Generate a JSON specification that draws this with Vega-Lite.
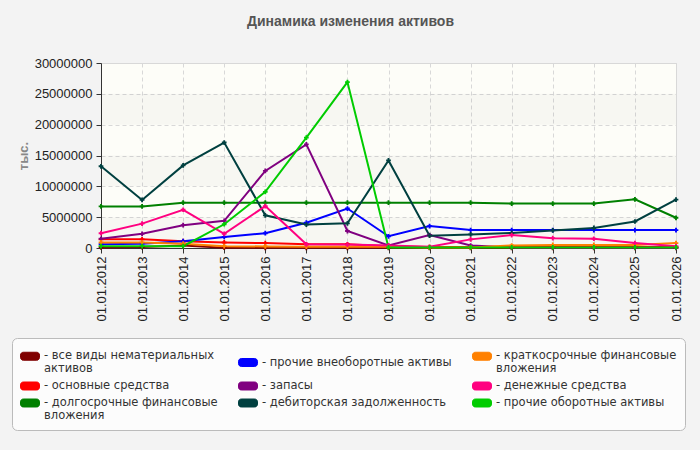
{
  "$schema": "https://vega.github.io/schema/vega-lite/v6.json",
  "width": 575,
  "height": 185,
  "autosize": {"type": "none"},
  "padding": {"left": 101, "top": 63, "right": 24, "bottom": 202},
  "background": "#f3f3f3",
  "title": {"text": "Динамика изменения активов", "fontSize": 14, "font": "Liberation Sans", "fontWeight": "bold", "color": "#555555", "anchor": "middle", "dx": -38, "offset": 28},
  "config": {
    "font": "Liberation Sans",
    "view": {"fill": "#fdfdf8", "stroke": "#d8d8d8"}
  },
  "datasets": {
    "bands": [
      {"b0": 0, "b1": 5000000},
      {"b0": 10000000, "b1": 15000000},
      {"b0": 20000000, "b1": 25000000}
    ],
    "series": [
      {"d": "01.01.2012", "s": "все виды нематериальных активов", "v": 100000},
      {"d": "01.01.2013", "s": "все виды нематериальных активов", "v": 150000},
      {"d": "01.01.2014", "s": "все виды нематериальных активов", "v": 400000},
      {"d": "01.01.2015", "s": "все виды нематериальных активов", "v": 50000},
      {"d": "01.01.2016", "s": "все виды нематериальных активов", "v": 30000},
      {"d": "01.01.2017", "s": "все виды нематериальных активов", "v": 30000},
      {"d": "01.01.2018", "s": "все виды нематериальных активов", "v": 30000},
      {"d": "01.01.2019", "s": "все виды нематериальных активов", "v": 30000},
      {"d": "01.01.2020", "s": "все виды нематериальных активов", "v": 20000},
      {"d": "01.01.2021", "s": "все виды нематериальных активов", "v": 20000},
      {"d": "01.01.2022", "s": "все виды нематериальных активов", "v": 20000},
      {"d": "01.01.2023", "s": "все виды нематериальных активов", "v": 20000},
      {"d": "01.01.2024", "s": "все виды нематериальных активов", "v": 20000},
      {"d": "01.01.2025", "s": "все виды нематериальных активов", "v": 20000},
      {"d": "01.01.2026", "s": "все виды нематериальных активов", "v": 20000},

      {"d": "01.01.2012", "s": "основные средства", "v": 1400000},
      {"d": "01.01.2013", "s": "основные средства", "v": 1400000},
      {"d": "01.01.2014", "s": "основные средства", "v": 1100000},
      {"d": "01.01.2015", "s": "основные средства", "v": 900000},
      {"d": "01.01.2016", "s": "основные средства", "v": 800000},
      {"d": "01.01.2017", "s": "основные средства", "v": 600000},
      {"d": "01.01.2018", "s": "основные средства", "v": 600000},
      {"d": "01.01.2019", "s": "основные средства", "v": 300000},
      {"d": "01.01.2020", "s": "основные средства", "v": 150000},
      {"d": "01.01.2021", "s": "основные средства", "v": 150000},
      {"d": "01.01.2022", "s": "основные средства", "v": 150000},
      {"d": "01.01.2023", "s": "основные средства", "v": 150000},
      {"d": "01.01.2024", "s": "основные средства", "v": 150000},
      {"d": "01.01.2025", "s": "основные средства", "v": 150000},
      {"d": "01.01.2026", "s": "основные средства", "v": 150000},

      {"d": "01.01.2012", "s": "долгосрочные финансовые вложения", "v": 6750000},
      {"d": "01.01.2013", "s": "долгосрочные финансовые вложения", "v": 6750000},
      {"d": "01.01.2014", "s": "долгосрочные финансовые вложения", "v": 7350000},
      {"d": "01.01.2015", "s": "долгосрочные финансовые вложения", "v": 7350000},
      {"d": "01.01.2016", "s": "долгосрочные финансовые вложения", "v": 7350000},
      {"d": "01.01.2017", "s": "долгосрочные финансовые вложения", "v": 7350000},
      {"d": "01.01.2018", "s": "долгосрочные финансовые вложения", "v": 7350000},
      {"d": "01.01.2019", "s": "долгосрочные финансовые вложения", "v": 7350000},
      {"d": "01.01.2020", "s": "долгосрочные финансовые вложения", "v": 7350000},
      {"d": "01.01.2021", "s": "долгосрочные финансовые вложения", "v": 7350000},
      {"d": "01.01.2022", "s": "долгосрочные финансовые вложения", "v": 7200000},
      {"d": "01.01.2023", "s": "долгосрочные финансовые вложения", "v": 7200000},
      {"d": "01.01.2024", "s": "долгосрочные финансовые вложения", "v": 7200000},
      {"d": "01.01.2025", "s": "долгосрочные финансовые вложения", "v": 7900000},
      {"d": "01.01.2026", "s": "долгосрочные финансовые вложения", "v": 4900000},

      {"d": "01.01.2012", "s": "прочие внеоборотные активы", "v": 600000},
      {"d": "01.01.2013", "s": "прочие внеоборотные активы", "v": 700000},
      {"d": "01.01.2014", "s": "прочие внеоборотные активы", "v": 1100000},
      {"d": "01.01.2015", "s": "прочие внеоборотные активы", "v": 1800000},
      {"d": "01.01.2016", "s": "прочие внеоборотные активы", "v": 2400000},
      {"d": "01.01.2017", "s": "прочие внеоборотные активы", "v": 4100000},
      {"d": "01.01.2018", "s": "прочие внеоборотные активы", "v": 6400000},
      {"d": "01.01.2019", "s": "прочие внеоборотные активы", "v": 1900000},
      {"d": "01.01.2020", "s": "прочие внеоборотные активы", "v": 3550000},
      {"d": "01.01.2021", "s": "прочие внеоборотные активы", "v": 2900000},
      {"d": "01.01.2022", "s": "прочие внеоборотные активы", "v": 2900000},
      {"d": "01.01.2023", "s": "прочие внеоборотные активы", "v": 2900000},
      {"d": "01.01.2024", "s": "прочие внеоборотные активы", "v": 2900000},
      {"d": "01.01.2025", "s": "прочие внеоборотные активы", "v": 2900000},
      {"d": "01.01.2026", "s": "прочие внеоборотные активы", "v": 2900000},

      {"d": "01.01.2012", "s": "запасы", "v": 1500000},
      {"d": "01.01.2013", "s": "запасы", "v": 2300000},
      {"d": "01.01.2014", "s": "запасы", "v": 3700000},
      {"d": "01.01.2015", "s": "запасы", "v": 4400000},
      {"d": "01.01.2016", "s": "запасы", "v": 12500000},
      {"d": "01.01.2017", "s": "запасы", "v": 16800000},
      {"d": "01.01.2018", "s": "запасы", "v": 2750000},
      {"d": "01.01.2019", "s": "запасы", "v": 400000},
      {"d": "01.01.2020", "s": "запасы", "v": 2100000},
      {"d": "01.01.2021", "s": "запасы", "v": 400000},
      {"d": "01.01.2022", "s": "запасы", "v": 100000},
      {"d": "01.01.2023", "s": "запасы", "v": 50000},
      {"d": "01.01.2024", "s": "запасы", "v": 50000},
      {"d": "01.01.2025", "s": "запасы", "v": 50000},
      {"d": "01.01.2026", "s": "запасы", "v": 50000},

      {"d": "01.01.2012", "s": "дебиторская задолженность", "v": 13250000},
      {"d": "01.01.2013", "s": "дебиторская задолженность", "v": 7800000},
      {"d": "01.01.2014", "s": "дебиторская задолженность", "v": 13400000},
      {"d": "01.01.2015", "s": "дебиторская задолженность", "v": 17100000},
      {"d": "01.01.2016", "s": "дебиторская задолженность", "v": 5300000},
      {"d": "01.01.2017", "s": "дебиторская задолженность", "v": 3800000},
      {"d": "01.01.2018", "s": "дебиторская задолженность", "v": 4000000},
      {"d": "01.01.2019", "s": "дебиторская задолженность", "v": 14200000},
      {"d": "01.01.2020", "s": "дебиторская задолженность", "v": 2000000},
      {"d": "01.01.2021", "s": "дебиторская задолженность", "v": 2200000},
      {"d": "01.01.2022", "s": "дебиторская задолженность", "v": 2450000},
      {"d": "01.01.2023", "s": "дебиторская задолженность", "v": 2850000},
      {"d": "01.01.2024", "s": "дебиторская задолженность", "v": 3250000},
      {"d": "01.01.2025", "s": "дебиторская задолженность", "v": 4300000},
      {"d": "01.01.2026", "s": "дебиторская задолженность", "v": 7850000},

      {"d": "01.01.2012", "s": "краткосрочные финансовые вложения", "v": 900000},
      {"d": "01.01.2013", "s": "краткосрочные финансовые вложения", "v": 900000},
      {"d": "01.01.2014", "s": "краткосрочные финансовые вложения", "v": 700000},
      {"d": "01.01.2015", "s": "краткосрочные финансовые вложения", "v": 300000},
      {"d": "01.01.2016", "s": "краткосрочные финансовые вложения", "v": 250000},
      {"d": "01.01.2017", "s": "краткосрочные финансовые вложения", "v": 200000},
      {"d": "01.01.2018", "s": "краткосрочные финансовые вложения", "v": 200000},
      {"d": "01.01.2019", "s": "краткосрочные финансовые вложения", "v": 200000},
      {"d": "01.01.2020", "s": "краткосрочные финансовые вложения", "v": 100000},
      {"d": "01.01.2021", "s": "краткосрочные финансовые вложения", "v": 100000},
      {"d": "01.01.2022", "s": "краткосрочные финансовые вложения", "v": 400000},
      {"d": "01.01.2023", "s": "краткосрочные финансовые вложения", "v": 500000},
      {"d": "01.01.2024", "s": "краткосрочные финансовые вложения", "v": 500000},
      {"d": "01.01.2025", "s": "краткосрочные финансовые вложения", "v": 500000},
      {"d": "01.01.2026", "s": "краткосрочные финансовые вложения", "v": 800000},

      {"d": "01.01.2012", "s": "денежные средства", "v": 2400000},
      {"d": "01.01.2013", "s": "денежные средства", "v": 3950000},
      {"d": "01.01.2014", "s": "денежные средства", "v": 6200000},
      {"d": "01.01.2015", "s": "денежные средства", "v": 2300000},
      {"d": "01.01.2016", "s": "денежные средства", "v": 6800000},
      {"d": "01.01.2017", "s": "денежные средства", "v": 600000},
      {"d": "01.01.2018", "s": "денежные средства", "v": 550000},
      {"d": "01.01.2019", "s": "денежные средства", "v": 400000},
      {"d": "01.01.2020", "s": "денежные средства", "v": 200000},
      {"d": "01.01.2021", "s": "денежные средства", "v": 1400000},
      {"d": "01.01.2022", "s": "денежные средства", "v": 2100000},
      {"d": "01.01.2023", "s": "денежные средства", "v": 1600000},
      {"d": "01.01.2024", "s": "денежные средства", "v": 1500000},
      {"d": "01.01.2025", "s": "денежные средства", "v": 800000},
      {"d": "01.01.2026", "s": "денежные средства", "v": 300000},

      {"d": "01.01.2012", "s": "прочие оборотные активы", "v": 300000},
      {"d": "01.01.2013", "s": "прочие оборотные активы", "v": 300000},
      {"d": "01.01.2014", "s": "прочие оборотные активы", "v": 300000},
      {"d": "01.01.2015", "s": "прочие оборотные активы", "v": 3850000},
      {"d": "01.01.2016", "s": "прочие оборотные активы", "v": 9100000},
      {"d": "01.01.2017", "s": "прочие оборотные активы", "v": 17900000},
      {"d": "01.01.2018", "s": "прочие оборотные активы", "v": 26900000},
      {"d": "01.01.2019", "s": "прочие оборотные активы", "v": 100000},
      {"d": "01.01.2020", "s": "прочие оборотные активы", "v": 100000},
      {"d": "01.01.2021", "s": "прочие оборотные активы", "v": 100000},
      {"d": "01.01.2022", "s": "прочие оборотные активы", "v": 100000},
      {"d": "01.01.2023", "s": "прочие оборотные активы", "v": 100000},
      {"d": "01.01.2024", "s": "прочие оборотные активы", "v": 100000},
      {"d": "01.01.2025", "s": "прочие оборотные активы", "v": 100000},
      {"d": "01.01.2026", "s": "прочие оборотные активы", "v": 100000}
    ]
  },
  "layer": [
    {
      "data": {"name": "bands"},
      "mark": {"type": "rect", "fill": "#000000", "opacity": 0.025},
      "encoding": {
        "y": {"field": "b0", "type": "quantitative", "scale": {"domain": [0, 30000000]},
          "axis": {"title": "тыс.", "titleColor": "#888888", "titleFontSize": 13, "titleFontWeight": "bold", "titlePadding": 4, "values": [0, 5000000, 10000000, 15000000, 20000000, 25000000, 30000000], "format": "d", "labelFontSize": 13, "labelColor": "#222222", "gridDash": [4, 3], "gridColor": "#d8d8d8", "domainColor": "#333333", "tickColor": "#333333", "tickSize": 5, "labelPadding": 4}},
        "y2": {"field": "b1"}
      }
    },
    {
      "data": {"name": "series"},
      "mark": {"type": "line", "strokeWidth": 2, "point": {"shape": "cross", "size": 22, "filled": true}},
      "encoding": {
        "x": {"field": "d", "type": "ordinal", "sort": null, "scale": {"type": "point", "padding": 0},
          "axis": {"title": null, "labelAngle": -90, "labelFontSize": 13, "labelColor": "#222222", "grid": true, "gridDash": [4, 3], "gridColor": "#d8d8d8", "domainColor": "#333333", "tickColor": "#333333", "tickSize": 5, "labelPadding": 3}},
        "y": {"field": "v", "type": "quantitative", "scale": {"domain": [0, 30000000]},
          "axis": {"title": "тыс.", "titleColor": "#888888", "titleFontSize": 13, "titleFontWeight": "bold", "titlePadding": 4, "values": [0, 5000000, 10000000, 15000000, 20000000, 25000000, 30000000], "format": "d", "labelFontSize": 13, "labelColor": "#222222", "gridDash": [4, 3], "gridColor": "#d8d8d8", "domainColor": "#333333", "tickColor": "#333333", "tickSize": 5, "labelPadding": 4}},
        "color": {"field": "s", "type": "nominal",
          "scale": {
            "domain": ["все виды нематериальных активов", "основные средства", "долгосрочные финансовые вложения", "прочие внеоборотные активы", "запасы", "дебиторская задолженность", "краткосрочные финансовые вложения", "денежные средства", "прочие оборотные активы"],
            "range": ["#800000", "#ff0000", "#008000", "#0000ff", "#800080", "#004040", "#ff8000", "#ff0080", "#00cc00"]
          },
          "legend": {
            "orient": "none", "legendX": -89, "legendY": 275, "columns": 3, "title": null, "gridAlign": "each",
            "symbolType": "M-0.7,-0.42H0.7A0.3,0.3 0 0 1 1,-0.12V0.12A0.3,0.3 0 0 1 0.7,0.42H-0.7A0.3,0.3 0 0 1 -1,0.12V-0.12A0.3,0.3 0 0 1 -0.7,-0.42Z", "symbolSize": 361,
            "labelFont": "DejaVu Sans", "labelFontSize": 11.5, "labelColor": "#333333", "labelLimit": 300, "labelOffset": 4,
            "padding": 8, "fillColor": "#fcfcfc", "strokeColor": "#bbbbbb", "cornerRadius": 5,
            "columnPadding": 18, "rowPadding": 1,
            "labelExpr": "datum.label == 'все виды нематериальных активов' ? ['- все виды нематериальных', '\u00a0\u00a0активов'] : datum.label == 'долгосрочные финансовые вложения' ? ['- долгосрочные финансовые', '\u00a0\u00a0вложения'] : datum.label == 'краткосрочные финансовые вложения' ? ['- краткосрочные финансовые', '\u00a0\u00a0вложения'] : '- ' + datum.label",
            "encode": {
              "symbols": {"update": {"fill": {"scale": "color", "field": "value"}, "stroke": {"value": "#999999"}, "strokeWidth": {"value": 1}, "opacity": {"value": 1}}},
              "labels": {"update": {"lineHeight": {"value": 13}}}
            }
          }
        }
      }
    }
  ]
}
